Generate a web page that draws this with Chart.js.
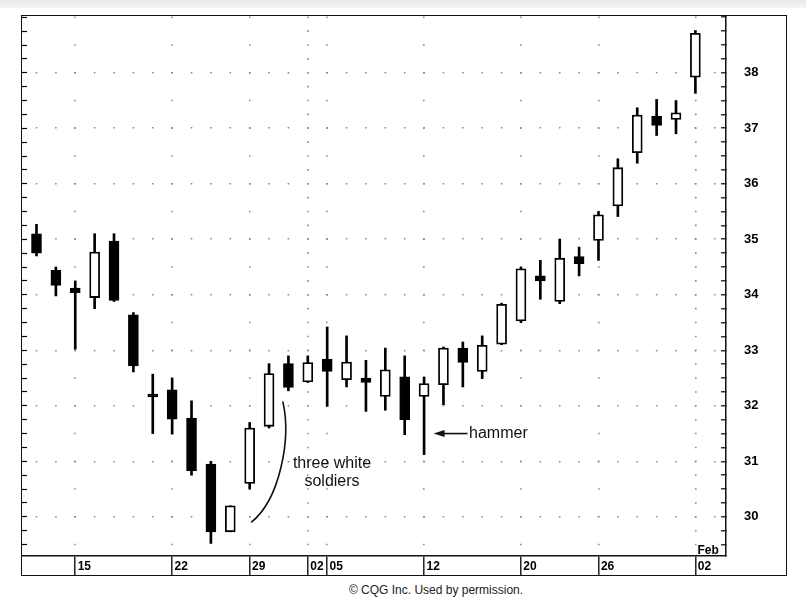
<!DOCTYPE html>
<html>
<head>
<meta charset="utf-8">
<script src="https://cdn.jsdelivr.net/npm/chart.js@4.4.1/dist/chart.umd.min.js"></script>
<style>
    body { margin: 0; background: #fff; font-family: 'Liberation Sans', Arial, sans-serif; }
    #topband { position: absolute; left: 0; top: 0; width: 806px; height: 8px; background: linear-gradient(#e9e9e9, #f6f6f6); }
    #frame { position: absolute; left: 21px; top: 15px; width: 764px; height: 559px; border: 1.5px solid #111; }
    #credit { position: absolute; left: 316px; top: 582px; width: 240px; text-align: center; font-size: 12px; line-height: 16px; color: #222; }
</style>
</head>
<body>
<div id="topband"></div>
<div id="frame"><canvas id="candles" width="764" height="559"></canvas></div>
<div id="credit">© CQG Inc. Used by permission.</div>
<script>
// trading days, Dec 11 .. Feb 02
var days = ['Dec 11', 'Dec 12', 'Dec 15', 'Dec 16', 'Dec 17', 'Dec 18', 'Dec 19', 'Dec 22', 'Dec 23', 'Dec 24',
    'Dec 26', 'Dec 29', 'Dec 30', 'Dec 31', 'Jan 02', 'Jan 05', 'Jan 06', 'Jan 07', 'Jan 08', 'Jan 09',
    'Jan 12', 'Jan 13', 'Jan 14', 'Jan 15', 'Jan 16', 'Jan 20', 'Jan 21', 'Jan 22', 'Jan 23', 'Jan 26',
    'Jan 27', 'Jan 28', 'Jan 29', 'Jan 30', 'Feb 02'];

var openPx  = [35.10, 34.44, 34.12, 33.95, 34.97, 33.64, 32.21, 32.29, 31.78, 30.95,
    29.73, 30.60, 31.63, 32.76, 32.43, 32.84, 32.47, 32.50, 32.17, 32.52,
    32.17, 32.38, 33.04, 32.62, 33.11, 33.53, 34.34, 33.88, 34.69, 34.98,
    35.60, 36.56, 37.22, 37.16, 37.92];
var highPx  = [35.27, 34.50, 34.25, 35.10, 35.10, 33.68, 32.57, 32.50, 32.09, 31.00,
    30.20, 31.70, 32.76, 32.90, 32.90, 33.42, 33.26, 32.82, 33.04, 32.90,
    32.52, 33.06, 33.15, 33.26, 33.85, 34.50, 34.62, 35.00, 34.86, 35.50,
    36.45, 37.37, 37.52, 37.50, 38.76];
var lowPx   = [34.70, 33.98, 33.02, 33.75, 33.88, 32.61, 31.50, 31.49, 30.75, 29.52,
    29.73, 30.50, 31.60, 32.27, 32.42, 31.99, 32.34, 31.90, 31.92, 31.48,
    31.12, 32.02, 32.34, 32.49, 33.10, 33.50, 33.92, 33.84, 34.34, 34.62,
    35.41, 36.37, 36.87, 36.90, 37.63];
var closePx = [34.75, 34.17, 34.04, 34.77, 33.90, 32.72, 32.16, 31.76, 30.83, 29.73,
    30.20, 31.60, 32.58, 32.33, 32.78, 32.62, 32.79, 32.42, 32.65, 31.75,
    32.40, 33.04, 32.78, 33.09, 33.83, 34.47, 34.25, 34.66, 34.56, 35.44,
    36.29, 37.24, 37.05, 37.28, 38.71];

// date ticks on the bottom strip (index into days)
var tickDays = [2, 7, 11, 14, 15, 20, 25, 29, 34];
var tickText = ['15', '22', '29', '02', '05', '12', '20', '26', '02'];
var monthStarts = [14, 34];
var monthText = [[34, 'Feb']];

// price axis
var priceMin = 29.294;
var priceMax = 39.023;
var priceTicks = [30, 31, 32, 33, 34, 35, 36, 37, 38];

// notes drawn on the chart, in (day index, price)
var soldiersCurve = [[11.08, 29.90], [12.54, 30.31], [13.16, 31.39], [12.71, 32.08]];
var soldiersText = [[15.25, 30.96, 'three white'], [15.25, 30.63, 'soldiers']];
var hammerArrow = [20.49, 22.24, 31.50];
var hammerText = [22.32, 31.50, 'hammer'];

var fontFamily = "'Liberation Sans', Arial, Helvetica, sans-serif";

var bodies = [];
var wicks = [];
var bodyColors = [];
for (var i = 0; i < days.length; i++) {
    bodies.push({ x: i, y: [openPx[i], closePx[i]] });
    wicks.push({ x: i, y: [lowPx[i], highPx[i]] });
    bodyColors.push(closePx[i] >= openPx[i] ? '#ffffff' : '#000000');
}

function posMod(a, p) {
    return ((a % p) + p) % p;
}

function isPriceTick(v) {
    for (var k = 0; k < priceTicks.length; k++) {
        if (Math.abs(priceTicks[k] - v) < 1e-6) {
            return true;
        }
    }
    return false;
}

// dotted rows: one dot at every trading day
function rowDash(c) {
    var xs = c.chart.scales.x;
    var p = xs.getPixelForValue(1) - xs.getPixelForValue(0);
    return [1.6, p - 1.6];
}
function rowDashOffset(c) {
    var xs = c.chart.scales.x;
    var p = xs.getPixelForValue(1) - xs.getPixelForValue(0);
    var x0 = xs.getPixelForValue(0) - 0.8 - c.chart.chartArea.left;
    return p - posMod(x0, p);
}
// dotted columns: every half point, every quarter on month starts
function colStep(c) {
    var ys = c.chart.scales.y;
    var step = 0.5;
    if (c.tick && monthStarts.indexOf(c.tick.value) >= 0) {
        step = 0.25;
    }
    return ys.getPixelForValue(38) - ys.getPixelForValue(38 + step);
}
function colDash(c) {
    var p = colStep(c);
    return [1.6, p - 1.6];
}
function colDashOffset(c) {
    var p = colStep(c);
    var y0 = c.chart.scales.y.getPixelForValue(38) - 0.8 - c.chart.chartArea.top;
    return p - posMod(y0, p);
}

var notesPlugin = {
    id: 'notes',
    afterDatasetsDraw: function(chart) {
        var ctx = chart.ctx;
        var xs = chart.scales.x;
        var ys = chart.scales.y;
        function px(v) { return xs.getPixelForValue(v); }
        function py(v) { return ys.getPixelForValue(v); }
        ctx.save();
        ctx.strokeStyle = '#111';
        ctx.fillStyle = '#111';
        ctx.lineWidth = 1.6;

        // bracket for three white soldiers
        var s = soldiersCurve;
        ctx.beginPath();
        ctx.moveTo(px(s[0][0]), py(s[0][1]));
        ctx.bezierCurveTo(px(s[1][0]), py(s[1][1]), px(s[2][0]), py(s[2][1]), px(s[3][0]), py(s[3][1]));
        ctx.stroke();

        // arrow to the hammer
        var tipX = px(hammerArrow[0]);
        var ay = py(hammerArrow[2]);
        ctx.beginPath();
        ctx.moveTo(tipX + 8, ay);
        ctx.lineTo(px(hammerArrow[1]), ay);
        ctx.stroke();
        ctx.beginPath();
        ctx.moveTo(tipX, ay);
        ctx.lineTo(tipX + 11, ay - 3.5);
        ctx.lineTo(tipX + 11, ay + 3.5);
        ctx.closePath();
        ctx.fill();

        ctx.font = '16px ' + fontFamily;
        ctx.textBaseline = 'middle';
        ctx.textAlign = 'center';
        for (var k = 0; k < soldiersText.length; k++) {
            ctx.fillText(soldiersText[k][2], px(soldiersText[k][0]), py(soldiersText[k][1]));
        }
        ctx.textAlign = 'left';
        ctx.fillText(hammerText[2], px(hammerText[0]), py(hammerText[1]));

        // month name sits just above the date strip
        ctx.fillStyle = '#000';
        ctx.font = 'bold 12px ' + fontFamily;
        for (var m = 0; m < monthText.length; m++) {
            ctx.fillText(monthText[m][1], px(monthText[m][0]) + 2, chart.chartArea.bottom - 5);
        }
        ctx.restore();
    }
};

var chart = new Chart(document.getElementById('candles'), {
    type: 'bar',
    data: {
        labels: days,
        datasets: [
            {
                label: 'body',
                data: bodies,
                backgroundColor: bodyColors,
                borderColor: '#000',
                borderWidth: 1.8,
                borderSkipped: false,
                barThickness: 10,
                grouped: false,
                order: 0
            },
            {
                label: 'range',
                data: wicks,
                backgroundColor: '#000',
                borderWidth: 0,
                barThickness: 2,
                grouped: false,
                order: 1
            }
        ]
    },
    options: {
        responsive: false,
        animation: false,
        layout: { padding: 0 },
        plugins: {
            legend: { display: false },
            tooltip: { enabled: false }
        },
        scales: {
            x: {
                type: 'linear',
                position: 'bottom',
                min: -0.748,
                max: 35.58,
                offset: false,
                afterBuildTicks: function(scale) {
                    scale.ticks = tickDays.map(function(v) { return { value: v }; });
                },
                afterFit: function(scale) {
                    scale.height = 19;
                    scale.paddingLeft = 0;
                    scale.paddingRight = 0;
                },
                ticks: {
                    autoSkip: false,
                    maxRotation: 0,
                    align: 'start',
                    padding: -16.3,
                    color: '#000',
                    font: { family: fontFamily, size: 12, weight: 'bold', lineHeight: 1.25 },
                    callback: function(v, idx) {
                        return '\u2009' + tickText[idx];
                    }
                },
                grid: {
                    offset: false,
                    color: '#8c8c8c',
                    lineWidth: 1.6,
                    tickColor: '#000',
                    tickLength: 19,
                    tickWidth: 1.3
                },
                border: {
                    display: true,
                    color: '#111',
                    width: 1.5,
                    dash: colDash,
                    dashOffset: colDashOffset
                }
            },
            y: {
                type: 'linear',
                position: 'right',
                min: priceMin,
                max: priceMax,
                afterFit: function(scale) {
                    scale.width = 60;
                    scale.paddingTop = 0;
                    scale.paddingBottom = 0;
                },
                ticks: {
                    stepSize: 0.25,
                    includeBounds: false,
                    autoSkip: false,
                    crossAlign: 'near',
                    padding: 23,
                    color: '#000',
                    font: { family: fontFamily, size: 13, weight: 'bold' },
                    callback: function(v) {
                        return isPriceTick(v) ? String(Math.round(v)) : '';
                    }
                },
                grid: {
                    color: function(c) {
                        if (c.tick && isPriceTick(c.tick.value)) {
                            return '#8c8c8c';
                        }
                        return 'rgba(0,0,0,0)';
                    },
                    lineWidth: 1.6,
                    tickColor: '#000',
                    tickLength: -5,
                    tickWidth: 1.2
                },
                border: {
                    display: true,
                    color: '#111',
                    width: 1.5,
                    dash: rowDash,
                    dashOffset: rowDashOffset
                }
            },
            yl: {
                type: 'linear',
                position: 'left',
                min: priceMin,
                max: priceMax,
                afterFit: function(scale) {
                    scale.width = 0;
                    scale.paddingTop = 0;
                    scale.paddingBottom = 0;
                },
                ticks: {
                    display: false,
                    stepSize: 0.25,
                    includeBounds: false,
                    autoSkip: false
                },
                grid: {
                    drawOnChartArea: false,
                    tickColor: '#000',
                    tickLength: -5,
                    tickWidth: 1.2
                },
                border: { display: false }
            }
        }
    },
    plugins: [notesPlugin]
});
</script>
</body>
</html>
